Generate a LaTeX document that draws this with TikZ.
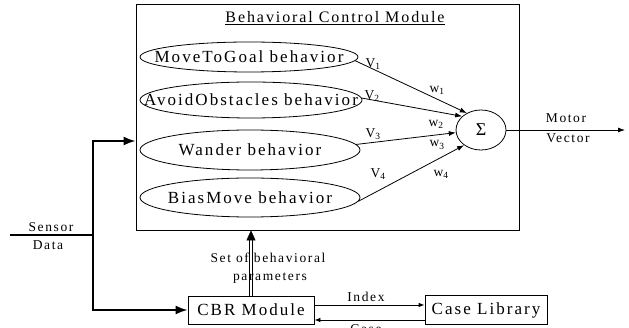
\documentclass[tikz,border=0pt]{standalone}
\usepackage{fontspec}
\setmainfont{Liberation Serif}[LetterSpace=12]
\usetikzlibrary{arrows.meta,shapes.geometric,calc}
\begin{document}
\begin{tikzpicture}[x=1pt,y=-1pt, line width=0.8pt,
  big/.style={font=\fontsize{17}{19}\selectfont},
  mid/.style={font=\fontsize{13.5}{15}\selectfont},
  beh/.style={draw, ellipse, inner sep=0pt},
  boxn/.style={draw, rectangle, inner sep=0pt, big},
  conn/.style={-{Latex[length=7pt,width=5pt]}},
  smallarr/.style={-{Latex[length=6pt,width=4.5pt]}},
  sensorline/.style={line width=2pt},
  sensor/.style={line width=2pt, -{Latex[length=12pt,width=9pt]}},
]
\useasboundingbox (0,0) rectangle (629,328);
% main module
\node[draw, minimum width=383pt, minimum height=226pt, inner sep=0pt] (main) at (327.5,117) {};
\node[font=\fontsize{16}{18}\selectfont] (title) at (335,18) {\underline{Behavioral Control Module}};
% behaviors
\node[beh, minimum width=218pt, minimum height=30pt] (e1) at (249,57) {};
\node[big] (t1) at (e1) {MoveToGoal behavior};
\node[beh, minimum width=222pt, minimum height=36pt] (e2) at (251,100) {};
\node[big] (t2) at (e2) {AvoidObstacles behavior};
\node[beh, minimum width=220pt, minimum height=40pt] (e3) at (250,150) {};
\node[big] (t3) at (e3) {Wander behavior};
\node[beh, minimum width=220pt, minimum height=39pt] (e4) at (250,197.5) {};
\node[big] (t4) at (e4) {BiasMove behavior};
% sum
\node[draw, ellipse, minimum width=50pt, minimum height=40pt, inner sep=0pt, font=\fontsize{18}{20}\selectfont] (sig) at (481,130) {Σ};
\draw[conn] (e1.-2) -- (sig.130);
\draw[conn] (e2.1) -- (sig.144);
\draw[conn] (e3.3) -- (sig.186);
\draw[conn] (e4.-2) -- (sig.222);
\node[mid] (v1) at (373,64) {V\textsubscript{1}};
\node[mid] (w1) at (437,90) {w\textsubscript{1}};
\node[mid] (v2) at (372,96) {V\textsubscript{2}};
\node[mid] (w2) at (436,124) {w\textsubscript{2}};
\node[mid] (v3) at (373,134) {V\textsubscript{3}};
\node[mid] (w3) at (437,145) {w\textsubscript{3}};
\node[mid] (v4) at (378,174) {V\textsubscript{4}};
\node[mid] (w4) at (441,174) {w\textsubscript{4}};
% motor vector
\coordinate (mv) at (625,130);
\draw[conn] (sig.east) -- (mv);
\node[mid] (motor) at (566,118) {Motor};
\node[mid] (vector) at (568,138) {Vector};
% CBR and case library
\node[boxn, minimum width=126pt, minimum height=28pt] (cbr) at (251,310) {CBR Module};
\node[boxn, minimum width=122pt, minimum height=29pt] (cl) at (486,310) {Case Library};
\draw[smallarr] ([yshift=5pt]cbr.east) -- ([yshift=5pt]cl.west);
\draw[smallarr] ([yshift=-10pt]cl.west) -- ([yshift=-10pt]cbr.east);
\node[mid] (idx) at (366,297) {Index};
\node[mid] (case) at (366,329) {Case};
% sensor data
\coordinate (sin) at (10,235);
\coordinate (sj) at (93,235);
\coordinate (st) at (93,141);
\draw[sensorline] (sin) -- (sj);
\draw[sensor] (sj) -- (st) -- (st -| main.west);
\draw[sensor] (sj) |- (cbr.west);
\node[mid] (sensortxt) at (51,227) {Sensor};
\node[mid] (datatxt) at (48,245) {Data};
% behavioral parameters double arrow
\coordinate (dtop) at (cbr.north |- main.south);
\draw[double, double distance=2pt, line width=0.8pt] (cbr.north) -- ([yshift=-9pt]dtop);
\draw[-{Triangle[length=10pt,width=9pt]}, line width=0.3pt] ([yshift=-9pt]dtop) -- (dtop);
\node[mid] (set) at (268,258) {Set of behavioral};
\node[mid] (par) at (270,278) {parameters};
\end{tikzpicture}
\end{document}
